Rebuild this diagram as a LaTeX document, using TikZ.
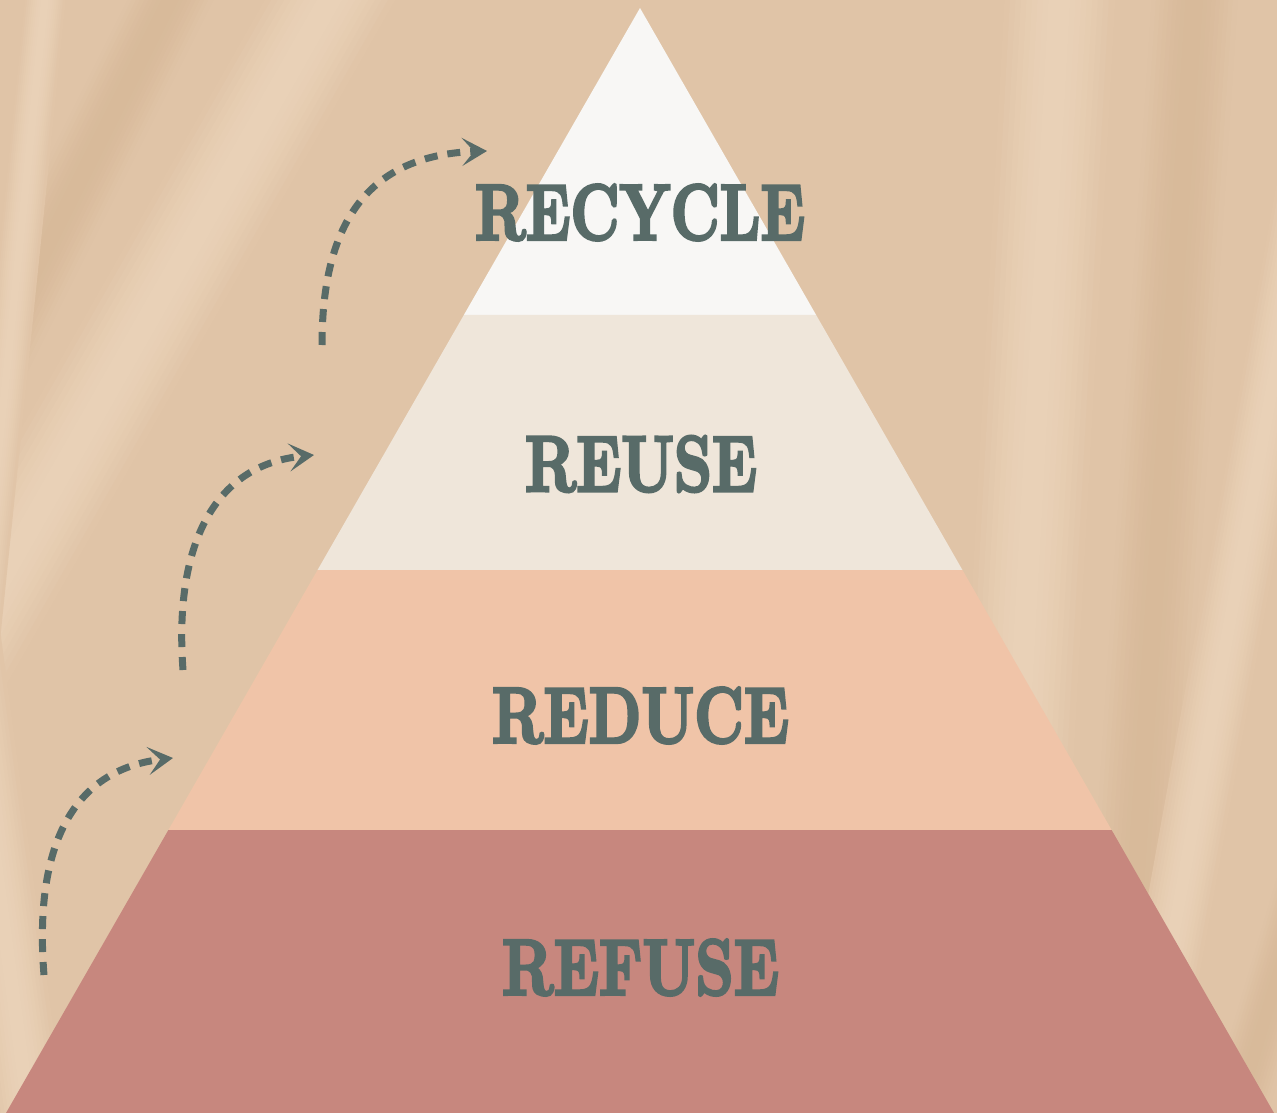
\documentclass[tikz,border=0pt]{standalone}
\usepackage{fontspec}
\usetikzlibrary{arrows.meta,calc}
\newfontfamily\heavy[FakeBold=4]{lmroman10-bold.otf}
\definecolor{bgL}{HTML}{E9D1B7}
\definecolor{bgM}{HTML}{E0C4A7}
\definecolor{bgD}{HTML}{D8BA9A}
\definecolor{tierA}{HTML}{F8F7F5}
\definecolor{tierB}{HTML}{EFE6DA}
\definecolor{tierC}{HTML}{F0C4A8}
\definecolor{tierD}{HTML}{C7877E}
\definecolor{ink}{HTML}{586B68}
\tikzset{
  tierlabel/.style={inner sep=0pt, outer sep=0pt, text=ink, anchor=center},
  uparrow/.style={draw=ink, line width=7pt, dash pattern=on 13pt off 10pt,
    -{Stealth[length=25pt, width=28pt, inset=12pt]}},
}
\newcommand{\tierword}[2]{\resizebox{#1}{55pt}{\heavy #2}}
% a soft slanted fold: x at top, y top, x at bottom, y bottom, width, colour
\newcommand{\fold}[6]{%
  \foreach \i in {0,...,19}{%
    \pgfmathsetmacro\p{100*sin(180*(\i+0.5)/20)}%
    \fill[#6!\p!bgM] (#1-#5/2+\i*#5/20,#2) -- (#1-#5/2+\i*#5/20+#5/20+0.8,#2)
      -- (#3-#5/2+\i*#5/20+#5/20+0.8,#4) -- (#3-#5/2+\i*#5/20,#4) -- cycle;}}
\begin{document}
\begin{tikzpicture}[x=1pt, y=-1pt]
\useasboundingbox (0,0) rectangle (1277,1113);
\fill[bgM] (0,0) rectangle (1277,1113);
% silky folds of the backdrop
\fold{341}{-20}{-68}{700}{130}{bgL}
\fold{180}{-20}{-120}{580}{85}{bgD}
\fold{46}{-10}{-70}{1120}{40}{bgL}
\fold{-80}{300}{30}{1120}{70}{bgL}
\fold{1060}{-10}{998}{1120}{110}{bgL}
\fold{1195}{-10}{1120}{1120}{85}{bgD}
\fold{1344}{-10}{1140}{1120}{65}{bgL}
\fold{1360}{700}{1235}{1120}{60}{bgD}
% pyramid geometry
\coordinate (apex) at (640,8);
\coordinate (bl) at (6,1113);
\coordinate (br) at (1274,1113);
\coordinate (l1) at ($(apex)!0.2778!(bl)$);
\coordinate (r1) at ($(apex)!0.2778!(br)$);
\coordinate (l2) at ($(apex)!0.5086!(bl)$);
\coordinate (r2) at ($(apex)!0.5086!(br)$);
\coordinate (l3) at ($(apex)!0.7439!(bl)$);
\coordinate (r3) at ($(apex)!0.7439!(br)$);
\fill[tierA] (apex) -- (r1) -- (l1) -- cycle;
\fill[tierB] (l1) -- (r1) -- (r2) -- (l2) -- cycle;
\fill[tierC] (l2) -- (r2) -- (r3) -- (l3) -- cycle;
\fill[tierD] (l3) -- (r3) -- (br) -- (bl) -- cycle;
% labels
\node[tierlabel] (recycle) at (640,212.5) {\tierword{330pt}{RECYCLE}};
\node[tierlabel] (reuse) at (641,464) {\tierword{232pt}{REUSE}};
\node[tierlabel] (reduce) at (640.5,715.5) {\tierword{297pt}{REDUCE}};
\node[tierlabel] (refuse) at (640.5,967.5) {\tierword{277pt}{REFUSE}};
% arrows
\coordinate (a1s) at (322,345); \coordinate (a1e) at (487,151);
\coordinate (a2s) at (183,670); \coordinate (a2e) at (314,455);
\coordinate (a3s) at (44,975);  \coordinate (a3e) at (173,758);
\draw[uparrow] (a1s) .. controls (322,220) and (370,155) .. (a1e);
\draw[uparrow] (a2s) .. controls (174,548) and (212,465) .. (a2e);
\draw[uparrow] (a3s) .. controls (34,850) and (70,770) .. (a3e);
\end{tikzpicture}
\end{document}
